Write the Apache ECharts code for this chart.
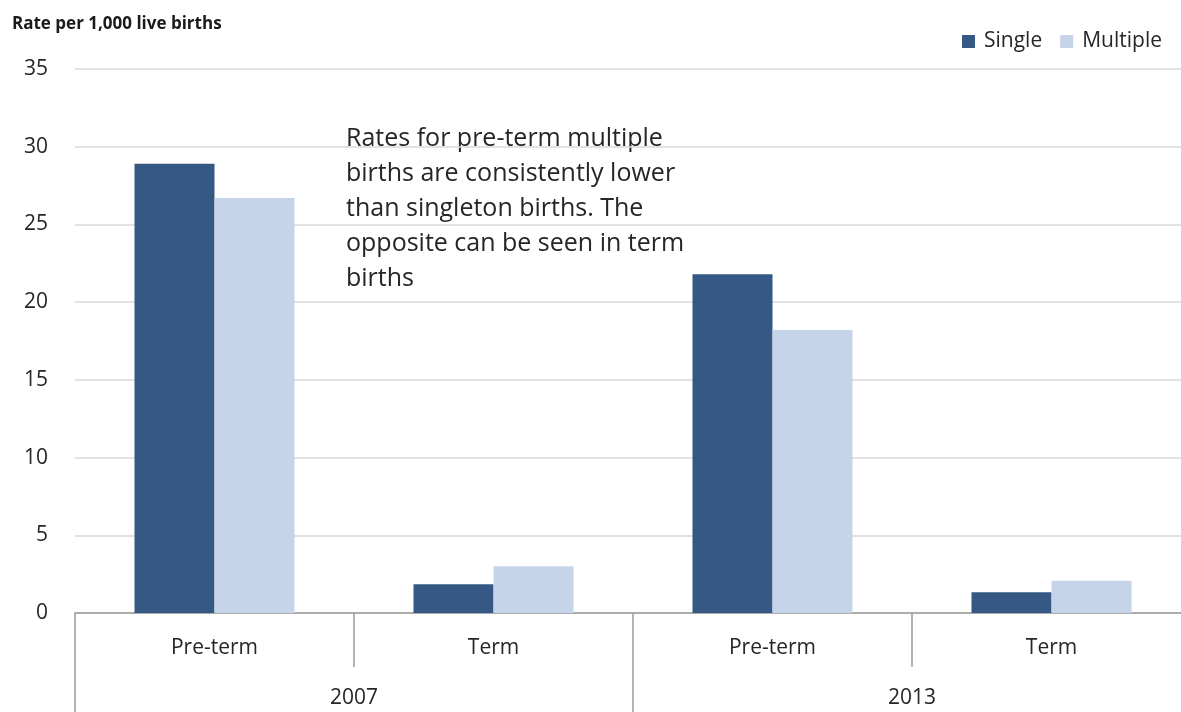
<!DOCTYPE html>
<html><head><meta charset="utf-8">
<script src="https://cdn.jsdelivr.net/npm/echarts@6/dist/echarts.min.js"></script>
<style>html,body{margin:0;padding:0;background:#fff}#c{width:1181px;height:712px}</style>
</head><body><div id="c"></div>
<script>
const categories = ['Pre-term', 'Term', 'Pre-term', 'Term'];
const years = ['2007', '2013'];
const single = [28.9, 1.85, 21.8, 1.33];
const multiple = [26.7, 3.0, 18.2, 2.08];
const yTicks = { min: 0, max: 35, interval: 5 };
const noteLines = ['Rates for pre-term multiple', 'births are consistently lower', 'than singleton births. The', 'opposite can be seen in term', 'births'];

const FONT = '"Open Sans", "Noto Sans", sans-serif';
const chart = echarts.init(document.getElementById('c'), null, { renderer: 'canvas' });
chart.setOption({
  animation: false,
  backgroundColor: '#fff',
  textStyle: { fontFamily: FONT },
  grid: { left: 75, top: 69, width: 1116, height: 544, containLabel: false, outerBoundsMode: 'none' },
  legend: {
    right: 14, top: 26, itemWidth: 13, itemHeight: 13, itemGap: 18,
    icon: 'rect',
    textStyle: { fontSize: 21, color: '#262626', fontFamily: FONT, padding: [0, 0, 0, 4] },
    data: ['Single', 'Multiple']
  },
  xAxis: [
    {
      type: 'category', data: categories, position: 'bottom',
      axisLine: { show: true, lineStyle: { color: '#9a9a9a', width: 1.5 } },
      axisTick: { show: true, interval: 0, length: 54, lineStyle: { color: '#9a9a9a', width: 1.5 } },
      axisLabel: { interval: 0, margin: 25, fontSize: 21, color: '#262626', fontFamily: FONT }
    },
    {
      type: 'category', data: years, position: 'bottom', gridIndex: 0,
      axisLine: { show: false },
      axisTick: { show: true, interval: 0, length: 100, lineStyle: { color: '#9a9a9a', width: 1.5 } },
      axisLabel: { interval: 0, margin: 75, fontSize: 21, color: '#262626', fontFamily: FONT }
    }
  ],
  yAxis: {
    type: 'value', min: yTicks.min, max: yTicks.max, interval: yTicks.interval,
    axisLine: { show: false }, axisTick: { show: false },
    splitLine: { lineStyle: { color: '#d9d9d9', width: 1.5 } },
    axisLabel: { margin: 27, fontSize: 21, color: '#262626', fontFamily: FONT }
  },
  series: [
    { name: 'Single', type: 'bar', data: single, barWidth: 80, barGap: '0%',
      itemStyle: { color: '#355884' }, xAxisIndex: 0 },
    { name: 'Multiple', type: 'bar', data: multiple, barWidth: 80, barGap: '0%',
      itemStyle: { color: '#c5d4e8' }, xAxisIndex: 0 }
  ],
  graphic: [
    { type: 'text', left: 12, top: 16,
      style: { text: 'Rate per 1,000 live births', font: 'bold 17px ' + FONT, fill: '#1a1a1a' } },
    { type: 'text', left: 346, top: 121,
      style: { text: noteLines.join('\n'), font: '25px ' + FONT, lineHeight: 35, fill: '#262626' } }
  ]
});
</script></body></html>
